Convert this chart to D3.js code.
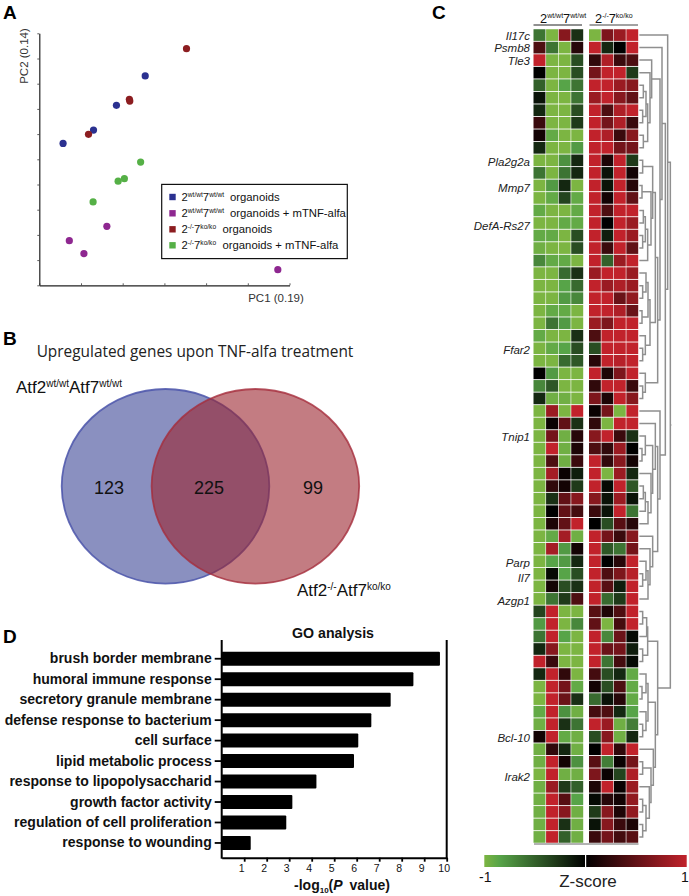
<!DOCTYPE html>
<html>
<head>
<meta charset="utf-8">
<script src="https://cdn.jsdelivr.net/npm/d3@7"></script>
<style>
html, body { margin: 0; padding: 0; background: #fff; overflow: hidden; }
text { font-family: "Liberation Sans", Arial, sans-serif; fill: #111; }
</style>
</head>
<body>
<div id="chart"></div>
<script>
// Panel A: PCA samples, axis units are tick steps
var pcaBlueX = [2.54, 1.85, 1.30, 0.57];
var pcaBlueY = [8.31, 7.14, 6.16, 5.63];
var pcaPurpleX = [1.62, 0.72, 1.07, 5.72];
var pcaPurpleY = [2.34, 1.77, 1.26, 0.62];
var pcaRedX = [3.53, 2.16, 2.17, 1.18];
var pcaRedY = [9.39, 7.38, 7.31, 5.99];
var pcaGreenX = [2.43, 2.04, 1.89, 1.29];
var pcaGreenY = [4.89, 4.23, 4.13, 3.31];
var pcaColors = ['#2b3190', '#8e2790', '#8c1d20', '#55b046'];
var pcaLegend = ['2^wt/wt^7^wt/wt^', '2^wt/wt^7^wt/wt^', '2^-/-^7^ko/ko^', '2^-/-^7^ko/ko^'];
var pcaLegendTail = ['organoids', 'organoids + mTNF-alfa', 'organoids', 'organoids + mTNF-alfa'];

// Panel B
var vennCounts = [123, 225, 99];

// Panel D
var goTerms = ['brush border membrane', 'humoral immune response', 'secretory granule membrane',
    'defense response to bacterium', 'cell surface', 'lipid metabolic process',
    'response to lipopolysaccharid', 'growth factor activity',
    'regulation of cell proliferation', 'response to wounding'];
var goValues = [9.70, 8.52, 7.51, 6.65, 6.07, 5.88, 4.21, 3.14, 2.87, 1.29];

// Panel C: z-score x 10, one row per gene, 4 samples each
var zWild = [
[-6,-10,7,-2.5],[4,-6,-10,2],[10,-10,-10,-4],[0,-10,-10,-4],[-5,-10,-8.5,-6],
[-1,-10,-10,-6],[-2,-10,-10,-4],[3,-10,-10,-3],[1,-9,-10,-10],[-2,-10,-10,-8],
[-10,-10,-7.5,-2],[-6,-10,-6,-2],[-10,-8,-2,-10],[-10,-9,-3.5,-9],[-9,-10,-10,-9],
[-10,-10,-9,-9],[-9,-9,-10,-4],[-9.5,-10,-10,-4],[-7,-9,-9,-10],[-10,-10,-5.5,-2.5],
[-10,-10,-8.5,-5.5],[-10,-10,-8,-7],[-10,-9,-9,-10],[-10,-6,-8,-10],[-9,-10,-10,-2.5],
[-10,-9,-8.5,-4],[-10,-10,-5.5,-4.5],[0,-8,-10,-10],[-7,-4.5,-10,-10],[-2,-9.5,-9.5,-10],
[-10,8,-10,10],[-10,0.5,5,-2.5],[-10,6,-9.5,2],[-10,10,-9.5,1.5],[-10,4,-9.5,3],
[-10,8.5,0.5,-1.5],[-10,2.5,1,-3],[-10,-2.5,5,7],[-10,0,5,3.5],[-10,1.5,5,10],
[-10,-9,8.5,-9.5],[-10,8.5,-8,1],[-10,-8.5,-8,-2],[-10,-0.5,-8.5,-4],[-10,1,-4,-2.5],
[-10,-6,-3,4],[-3.5,10,-10,-10],[-8,10,-10,-7],[-6,10,-8.5,-10],[-2,7,-10,-10],
[10,3,-10,-10],[-2,10,2.5,-10],[-10,10,6,-9],[-10,10,5.5,-2.5],[-9,10,-7.5,-9.5],
[-9.5,10,-2.5,-6],[1,10,-9,-9.5],[-9.5,2.5,-2,-9.5],[-9.5,10,1,-7.5],[-10,10,-9.5,-9.5],
[-9.5,8,-3,-5],[-9.5,10,4.5,-8.5],[-9.5,10,7,-9.5],[-9.5,10,-2.5,-9.5],[-9.5,10,-5,-9.5]];
var zKo = [
[-10,6.5,8,10],[10,-2,0,10],[2.5,9,3,4],[6,10,10,-3],[10,10,8,7],
[8,10,7,5],[10,4,9,10],[10,6,9,3],[10,9,3,7],[10,10,6,6],
[10,1.5,10,-3],[10,-1,10,1],[10,-1,10,2],[10,1,10,5],[10,4,10,10],
[10,0,10,8],[10,-1.5,10,8],[10,3,10,5],[10,-5,8,10],[8,10,10,8],
[10,8,9,8],[10,10,5.5,7.5],[10,10,9,5.5],[8,6.5,10,10],[4,10,10,10],
[-4,10,10,10],[2,10,9.5,10],[10,1.5,6.5,10],[2.5,10,10,3],[6.5,1.5,10,7],
[0.5,6,-10,10],[2.5,-10,10,10],[7,10,3,-2.5],[4,2.5,8,0],[10,2.5,7,1],
[10,-10,8,-2],[10,-0.5,10,-4.5],[7,-1,8,-1],[3,-1,10,-6],[0,-4,4.5,2],
[10,6,3,7],[10,-4.5,-6,6],[10,0,2,10],[10,4,6.5,9.5],[10,4.5,-1.5,10],
[10,-5.5,-3,10],[4.5,1.5,4,10],[5,-10,3.5,10],[10,-7,5.5,-0.5],[10,5.5,6,-1.5],
[10,-6,3.5,-0.5],[3.5,-4,-2,-9],[1,-4,4,-9],[-5.5,-1,2,-9],[3.5,4,-2,-8.5],
[10,8,-9.5,-6.5],[-4,7,-9.5,-2],[0,10,2.5,10],[4.5,-6.5,0.5,6],[6.5,0.5,-3.5,9],
[1.5,10,0.5,8],[-0.5,2,1,7.5],[-3,7,1.5,7.5],[-1,7,3,1.5],[3,6,3.5,4.5]];
var geneNames = ['Il17c', 'Psmb8', 'Tle3', 'Pla2g2a', 'Mmp7', 'DefA-Rs27', 'Ffar2', 'Tnip1', 'Parp', 'Il7', 'Azgp1', 'Bcl-10', 'Irak2'];
var geneRows = [1.1, 2, 3.1, 11.1, 13.2, 16.2, 26.1, 33.1, 43.1, 44.3, 46.2, 57.1, 60.2];

// row dendrogram: [merge height, child, child], numbers are rows
var rowTree = [103,
    [95, 1, [88,
        [78, 2, [72,
            [47, 3, [42, 4, [35, [30, [22, 5, 6], [20, 7, 8]], [22, 9, 10]]]],
            [65,
                [58,
                    [50, [20, 11, 12], [45, [18, 13, 14], [35, [28, [22, 15, 16], [20, 17, 18]], 19]]],
                    [42, [36, [30, 20, [20, 21, 22]], [18, 23, 24]], [28, 25, [20, 26, 27]]]],
                [28, 28, [20, 29, 30]]]]],
        [72, 31, [65,
            [58, 32, [50, [28, 33, [18, 34, 35]], [45, 36, [36, [28, [22, 37, 38], 39], 40]]]],
            [50, 41, [42, 42, [36, [30, 43, [20, 44, 45]], 46]]]]]]],
    [65,
        [35, [32, [20, 47, 48], 49], [20, 50, 51]],
        [58,
            [36, [30, 52, [18, 53, 54]], [30, 55, [20, 56, 57]]],
            [52, 58, [45, [20, 59, 60], [40, 61, [30, [20, 62, 63], [20, 64, 65]]]]]]]];

var width = 689;
var height = 896;

var svg = d3.select('#chart').append('svg')
    .attr('width', width)
    .attr('height', height)
    .style('display', 'block');

// text with ^superscript^ parts
function richText(sel, str, size, supSize) {
    var parts = str.split('^');
    var rise = Math.round(size * 0.38);
    parts.forEach(function(p, i) {
        if (p === '') return;
        var t = sel.append('tspan').text(p);
        if (i % 2 === 1) {
            t.attr('font-size', supSize).attr('dy', -rise);
        } else {
            t.attr('font-size', size).attr('dy', i > 0 ? rise : 0);
        }
    });
    return sel;
}

function panelLetter(txt, x, y) {
    svg.append('text').attr('x', x).attr('y', y).text(txt)
        .attr('font-size', 19).attr('font-weight', 'bold').style('fill', '#000');
}
panelLetter('A', 3, 19);
panelLetter('B', 3, 345);
panelLetter('C', 432, 19);
panelLetter('D', 3, 643);

//PANEL A
var pcaX = d3.scaleLinear().domain([0, 6]).range([39.3, 289.5]);
var pcaY = d3.scaleLinear().domain([0, 10]).range([285.3, 33.3]);

var gA = svg.append('g');
gA.append('g').attr('transform', 'translate(0,285.3)')
    .call(d3.axisBottom(pcaX).ticks(6).tickSizeInner(-2).tickSizeOuter(0).tickFormat(''));
gA.append('g').attr('transform', 'translate(39.3,0)')
    .call(d3.axisLeft(pcaY).ticks(10).tickSizeInner(2).tickSizeOuter(0).tickFormat(''));
gA.selectAll('.domain').attr('stroke', '#222').attr('stroke-width', 1.2);
gA.selectAll('.tick line').attr('stroke', '#333').attr('stroke-width', 0.8);

var pcaGroups = [
    [pcaBlueX, pcaBlueY], [pcaPurpleX, pcaPurpleY], [pcaRedX, pcaRedY], [pcaGreenX, pcaGreenY]
];
pcaGroups.forEach(function(g, gi) {
    gA.selectAll('circle.s' + gi)
        .data(g[0])
        .enter()
        .append('circle')
        .attr('class', 's' + gi)
        .attr('cx', function(d) { return pcaX(d); })
        .attr('cy', function(d, i) { return pcaY(g[1][i]); })
        .attr('r', 3.6)
        .style('fill', pcaColors[gi]);
});

gA.append('text').attr('transform', 'translate(28,56) rotate(-90)')
    .attr('text-anchor', 'middle').attr('font-size', 11.5).style('fill', '#333').text('PC2 (0.14)');
gA.append('text').attr('x', 276).attr('y', 302)
    .attr('text-anchor', 'middle').attr('font-size', 11.5).style('fill', '#333').text('PC1 (0.19)');

gA.append('rect').attr('x', 161.7).attr('y', 184.4).attr('width', 185.6).attr('height', 74.2)
    .style('fill', '#fff').style('stroke', '#111').style('stroke-width', 1.2);
var legendY = [197, 213.3, 229.3, 245.3];
var legendTailX = [230, 230, 222.5, 222.5];
pcaLegend.forEach(function(s, i) {
    gA.append('rect').attr('x', 169.3).attr('y', legendY[i] - 3.2).attr('width', 6.4).attr('height', 6.4)
        .style('fill', pcaColors[i]);
    var t = gA.append('text').attr('x', 181.5).attr('y', legendY[i] + 4);
    richText(t, s, 11.3, 6.6);
    gA.append('text').attr('x', legendTailX[i]).attr('y', legendY[i] + 4)
        .attr('font-size', 11.3).text(pcaLegendTail[i]);
});

//PANEL B
var gB = svg.append('g');
gB.append('text').attr('x', 195).attr('y', 356.5).attr('text-anchor', 'middle')
    .style('font-family', '"Open Sans"').attr('font-size', 15.4).style('fill', '#222')
    .text('Upregulated genes upon TNF-alfa treatment');

gB.append('ellipse').attr('cx', 165.5).attr('cy', 486.3).attr('rx', 103.8).attr('ry', 97.3)
    .style('fill', 'rgb(75,85,158)').style('fill-opacity', 0.65)
    .style('stroke', 'rgb(75,85,170)').style('stroke-opacity', 0.85).style('stroke-width', 1.8);
gB.append('ellipse').attr('cx', 255.4).attr('cy', 486.3).attr('rx', 103.8).attr('ry', 97.3)
    .style('fill', 'rgb(155,37,47)').style('fill-opacity', 0.6)
    .style('stroke', 'rgb(165,45,60)').style('stroke-opacity', 0.8).style('stroke-width', 1.8);

var vennX = [109, 209, 313];
gB.selectAll('text.count')
    .data(vennCounts)
    .enter()
    .append('text')
    .attr('class', 'count')
    .attr('x', function(d, i) { return vennX[i]; })
    .attr('y', 494)
    .attr('text-anchor', 'middle')
    .attr('font-size', 18)
    .text(function(d) { return d; });

richText(gB.append('text').attr('x', 16).attr('y', 393), 'Atf2^wt/wt^Atf7^wt/wt^', 17, 10);
richText(gB.append('text').attr('x', 297).attr('y', 595.5), 'Atf2^-/-^Atf7^ko/ko^', 17, 10);

//PANEL C
var zColor = d3.scaleLinear()
    .domain([-10, -8.5, 0, 10])
    .range(['#7cb542', '#57a448', '#000000', '#c1222b']);
var colIdx = [0, 1, 2, 3];
var rowIdx = d3.range(1, 66);
var rowBand = d3.scaleBand().domain(rowIdx).range([28.8, 843.2]).paddingInner(0.07).paddingOuter(0.035);
var colWild = d3.scaleBand().domain(colIdx).range([533.5, 583.2]).paddingInner(0.05);
var colKo = d3.scaleBand().domain(colIdx).range([589, 638.2]).paddingInner(0.05);
var rowCenter = function(r) { return rowBand(r) + rowBand.bandwidth() / 2; };
var rowLinear = d3.scaleLinear().domain([1, 65]).range([rowCenter(1), rowCenter(65)]);

var gC = svg.append('g');
[[zWild, colWild], [zKo, colKo]].forEach(function(block) {
    var rows = gC.append('g').selectAll('g')
        .data(block[0])
        .enter()
        .append('g')
        .attr('transform', function(d, i) { return 'translate(0,' + rowBand(i + 1) + ')'; });
    rows.selectAll('rect')
        .data(function(d) { return d; })
        .enter()
        .append('rect')
        .attr('x', function(d, i) { return block[1](i); })
        .attr('width', block[1].bandwidth())
        .attr('height', rowBand.bandwidth())
        .style('fill', function(d) { return zColor(d); });
});

gC.append('line').attr('x1', 533.5).attr('x2', 582).attr('y1', 25).attr('y2', 25)
    .style('stroke', '#222').style('stroke-width', 1);
gC.append('line').attr('x1', 589.5).attr('x2', 638).attr('y1', 25).attr('y2', 25)
    .style('stroke', '#444').style('stroke-width', 1);
gC.append('line').attr('x1', 534).attr('x2', 638.5).attr('y1', 844).attr('y2', 844)
    .style('stroke', '#666').style('stroke-width', 1);
richText(gC.append('text').attr('x', 540).attr('y', 23), '2^wt/wt^7^wt/wt^', 12.8, 7);
richText(gC.append('text').attr('x', 595).attr('y', 22.5), '2^-/-^7^ko/ko^', 12.8, 7);

gC.selectAll('text.gene')
    .data(geneNames)
    .enter()
    .append('text')
    .attr('class', 'gene')
    .attr('x', 530)
    .attr('y', function(d, i) { return rowLinear(geneRows[i]) + 4; })
    .attr('text-anchor', 'end')
    .attr('font-size', 11.5)
    .style('font-style', 'italic')
    .style('fill', '#222')
    .text(function(d) { return d; });

// dendrogram
var treeX = d3.scaleLinear().domain([0, 108]).range([636, 672]);
var root = d3.hierarchy(rowTree, function(d) { return Array.isArray(d) ? d.slice(1) : null; });
root.eachAfter(function(n) {
    if (n.children) {
        n.h = n.data[0];
        n.yy = (n.children[0].yy + n.children[1].yy) / 2;
    } else {
        n.h = 10;
        n.yy = rowCenter(n.data);
    }
});
var gTree = gC.append('g').style('fill', 'none').style('stroke', '#8f8f8f').style('stroke-width', 1.5);
gTree.selectAll('path')
    .data(root.descendants().filter(function(n) { return n.children; }))
    .enter()
    .append('path')
    .attr('d', function(n) {
        var a = n.children[0], b = n.children[1];
        return 'M' + treeX(a.h) + ',' + a.yy + 'H' + treeX(n.h) + 'V' + b.yy + 'H' + treeX(b.h);
    });
gTree.append('line').attr('x1', treeX(root.h)).attr('x2', treeX(106)).attr('y1', root.yy).attr('y2', root.yy);

// colour key
var defs = svg.append('defs');
var grad = defs.append('linearGradient').attr('id', 'zkey');
d3.range(-10, 10.5, 0.5).forEach(function(v) {
    grad.append('stop').attr('offset', ((v + 10) / 20 * 100) + '%').attr('stop-color', zColor(v));
});
var keyX = d3.scaleLinear().domain([-1, 1]).range([484.3, 686.7]);
gC.append('rect').attr('x', keyX(-1)).attr('y', 855).attr('width', keyX(1) - keyX(-1)).attr('height', 12)
    .style('fill', 'url(#zkey)');
gC.append('rect').attr('x', keyX(0) - 0.5).attr('y', 854).attr('width', 1.2).attr('height', 14).style('fill', '#fff');
gC.append('text').attr('x', 479).attr('y', 882).attr('font-size', 14).text('-1');
gC.append('text').attr('x', 681).attr('y', 882).attr('font-size', 14).text('1');
gC.append('text').attr('x', 588).attr('y', 887).attr('text-anchor', 'middle').attr('font-size', 17).style('fill', '#222').text('Z-score');

//PANEL D
var goX = d3.scaleLinear().domain([0, 10]).range([221.7, 446.7]);
var goY = d3.scaleBand().domain(goTerms).range([648.5, 853.2]).paddingInner(0.316).paddingOuter(0.158);

var gD = svg.append('g');
gD.selectAll('rect.bar')
    .data(goValues)
    .enter()
    .append('rect')
    .attr('class', 'bar')
    .attr('x', goX(0))
    .attr('y', function(d, i) { return goY(goTerms[i]); })
    .attr('width', function(d) { return goX(d) - goX(0); })
    .attr('height', goY.bandwidth())
    .attr('rx', 1)
    .style('fill', '#000');

var axisB = gD.append('g').attr('transform', 'translate(0,857.7)')
    .call(d3.axisBottom(goX).tickValues(d3.range(1, 11)).tickSizeInner(4).tickSizeOuter(0).tickPadding(3));
axisB.selectAll('.tick text').attr('dx', -3).attr('font-size', 10.5).style('font-family', '"Liberation Sans"');
var axisL = gD.append('g').attr('transform', 'translate(221.7,0)')
    .call(d3.axisLeft(goY).tickSizeInner(7).tickSizeOuter(0).tickPadding(3));
axisL.selectAll('.tick text').attr('font-size', 14).attr('font-weight', 'bold').style('font-family', '"Liberation Sans"');
axisL.select('.domain').remove();
gD.selectAll('.tick line').attr('stroke', '#000').attr('stroke-width', 1.8);
axisB.select('.domain').attr('stroke', '#000').attr('stroke-width', 2);
gD.append('line').attr('x1', goX(0)).attr('x2', goX(0)).attr('y1', 640).attr('y2', 858.7)
    .style('stroke', '#000').style('stroke-width', 2);
gD.append('line').attr('x1', goX(10)).attr('x2', goX(10)).attr('y1', 640).attr('y2', 858.7)
    .style('stroke', '#000').style('stroke-width', 2);

gD.append('text').attr('x', 333).attr('y', 637.5).attr('text-anchor', 'middle')
    .attr('font-size', 14.2).attr('font-weight', 'bold').text('GO analysis');
var xl = gD.append('text').attr('x', 342).attr('y', 890).attr('text-anchor', 'middle')
    .attr('font-size', 14).attr('font-weight', 'bold');
xl.append('tspan').text('-log');
xl.append('tspan').text('10').attr('font-size', 8).attr('dy', 3);
xl.append('tspan').text('(').attr('dy', -3);
xl.append('tspan').text('P').style('font-style', 'italic');
xl.append('tspan').text(' value)').attr('dx', 3);
</script>
</body>
</html>
